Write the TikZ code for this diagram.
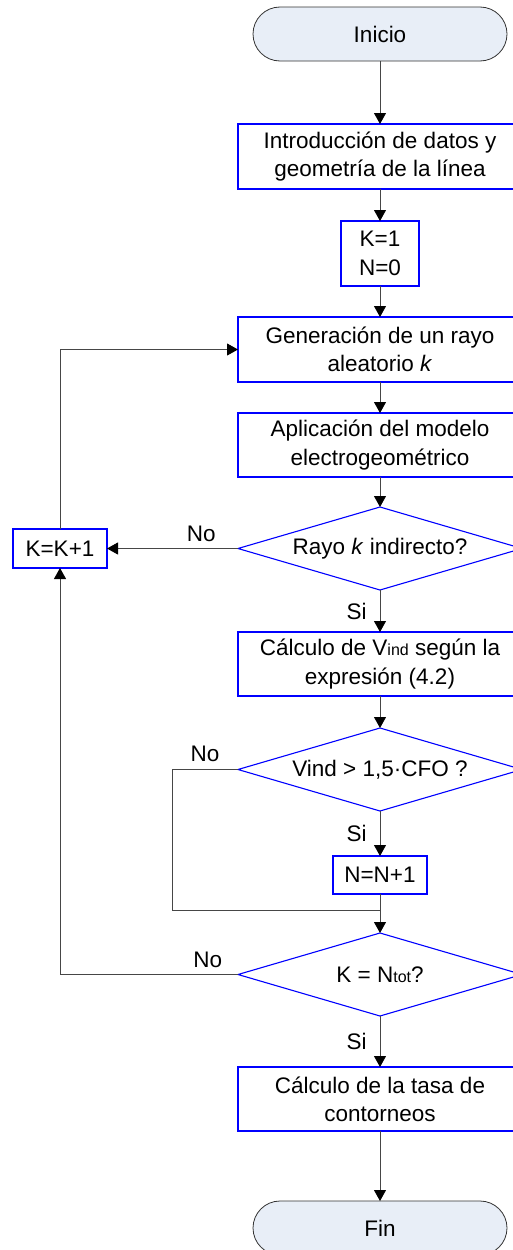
\documentclass[tikz,border=0pt]{standalone}
\usepackage{fontspec}
\setmainfont{Liberation Sans}
\usepackage{tikz}
\usetikzlibrary{shapes.geometric, positioning, arrows.meta}
\definecolor{termfill}{RGB}{232,238,247}
\definecolor{linegray}{RGB}{70,70,70}
\newcommand{\peq}[1]{{\fontsize{16}{16}\selectfont #1}} % small text after V and N
\tikzset{
    every node/.style={outer sep=0pt}, % anchors sit on the border
    term/.style={draw=black!80, fill=termfill, line width=0.8pt, rounded corners=27pt, minimum width=254pt, minimum height=54pt}, % start and end
    proc/.style={draw=blue, line width=1.1pt, minimum width=284pt, minimum height=65pt, align=center, inner sep=2pt}, % process boxes
    decision/.style={diamond, draw=blue, line width=1.1pt, minimum width=284pt, minimum height=83pt, aspect=3.4, inner sep=0pt}, % questions
    flow/.style={draw=linegray, line width=0.9pt, -{Triangle[length=11pt, width=12pt, color=black]}}, % arrows
    line/.style={draw=linegray, line width=0.9pt}, % lines with no arrow
}

\begin{document}
\begin{tikzpicture}[x=1pt, y=-1pt, font=\fontsize{22.5}{28.3}\selectfont]
    \useasboundingbox (0,0) rectangle (513,1250);
    \node[term] (ini) at (380,34) {Inicio};
    \node[proc, below=63pt of ini] (datos) {Introducción de datos y\\geometría de la línea};
    \node[proc, below=32pt of datos, minimum width=78pt] (init) {K=1\\N=0};
    \node[proc, below=31pt of init] (rayo) {Generación de un rayo\\aleatorio \textit{k}};
    \node[proc, below=31pt of rayo, minimum height=64pt] (modelo) {Aplicación del modelo\\electrogeométrico};
    \node[decision, below=30pt of modelo] (indir) {Rayo \textit{k} indirecto?};
    \node[proc, left=131pt of indir, minimum width=94pt, minimum height=39pt] (kinc) {K=K+1};
    \node[proc, below=42pt of indir, minimum height=64pt] (vind) {Cálculo de V\peq{ind} según la\\expresión (4.2)};
    \node[decision, below=32pt of vind] (cfo) {Vind > 1,5·CFO ?};
    \node[proc, below=45pt of cfo, minimum width=94pt, minimum height=38pt] (ninc) {N=N+1};
    \coordinate[below=16pt of ninc] (merge);
    \node[decision, below=39pt of ninc] (ntot) {K = N\peq{tot}?};
    \node[proc, below=51pt of ntot, minimum height=64pt] (tasa) {Cálculo de la tasa de\\contorneos};
    \node[term, below=70pt of tasa] (fin) {Fin};
    \draw[flow] (ini) -- (datos);
    \draw[flow] (datos) -- (init);
    \draw[flow] (init) -- (rayo);
    \draw[flow] (rayo) -- (modelo);
    \draw[flow] (modelo) -- (indir);
    \draw[flow] (indir) -- node[pos=0.28, above=3pt]{No} (kinc);
    \draw[flow] (kinc.north) |- (rayo.west);
    \draw[flow] (indir) -- node[left=10pt]{Si} (vind);
    \draw[flow] (vind) -- (cfo);
    \draw[flow] (cfo) -- node[left=10pt]{Si} (ninc);
    \draw[line] (cfo.west) -- node[above=4pt]{No} ++(-66,0) |- (merge);
    \draw[flow] (ninc) -- (ntot);
    \draw[flow] (ntot.west) -| node[pos=0.085, above=3pt]{No} (kinc.south);
    \draw[flow] (ntot) -- node[left=10pt]{Si} (tasa);
    \draw[flow] (tasa) -- (fin);
\end{tikzpicture}
\end{document}
